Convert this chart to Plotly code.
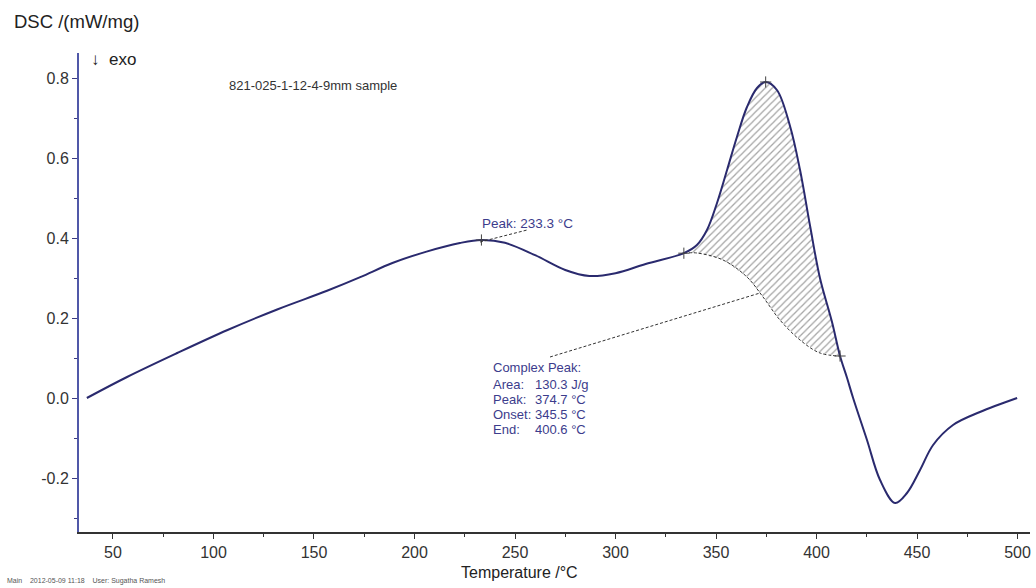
import plotly.graph_objects as go

# DSC trace: temperature (°C) vs heat flow (mW/mg)
temperature = [37, 57, 82, 107, 132, 156.5, 173, 189, 206, 222.6, 233.3, 245, 260, 275,
               287, 300, 315, 334, 340.5, 345.5, 350.5, 355.5, 360.4, 365.4, 370.4,
               374.7, 380.3, 386.8, 391.8, 396.8, 401.7, 407.7, 411.7, 415.2, 418.2,
               425.1, 431.6, 439.1, 445, 451.5, 458, 467.9, 481.3, 499.8]
dsc = [0.0, 0.0525, 0.1125, 0.17, 0.222, 0.268, 0.302, 0.3375, 0.366, 0.3875, 0.395,
       0.388, 0.357, 0.32, 0.305, 0.312, 0.335, 0.362, 0.3825, 0.42, 0.4875, 0.57,
       0.6525, 0.7275, 0.775, 0.79, 0.77, 0.68, 0.57, 0.43, 0.30, 0.19, 0.105, 0.05,
       0.0, -0.105, -0.205, -0.2625, -0.2375, -0.18, -0.1175, -0.0675, -0.035, 0.0]

# integration baseline of the complex peak
base_t = [334, 340.5, 353.5, 365.4, 373.4, 381.8, 391.8, 401.7, 411.7]
base_v = [0.362, 0.3625, 0.345, 0.3025, 0.2525, 0.195, 0.145, 0.1125, 0.105]

# evaluation markers (peak, onset, complex peak, end)
mark_t = [233.3, 334, 374.7, 411.7]
mark_v = [0.395, 0.362, 0.79, 0.105]

# tick labels
x_ticks = [50, 100, 150, 200, 250, 300, 350, 400, 450, 500]
y_ticks = [-0.2, 0.0, 0.2, 0.4, 0.6, 0.8]
y_ticktext = ["-0.2", "0.0", "0.2", "0.4", "0.6", "0.8"]

peak_rows = [("Area:", "130.3 J/g"), ("Peak:", "374.7 °C"),
             ("Onset:", "345.5 °C"), ("End:", "400.6 °C")]

NAVY = "#2a2a6e"
LABEL = "#3c3c8c"


def px_to_t(px):
    return 50 + (px - 113) / 2.01


def py_to_v(py):
    return (398 - py) / 400


# hatched region between curve and baseline
seg = [(t, v) for t, v in zip(temperature, dsc) if base_t[0] <= t <= base_t[-1]]
poly_t = [t for t, _ in seg] + base_t[::-1]
poly_v = [v for _, v in seg] + base_v[::-1]

fig = go.Figure()
fig.add_trace(go.Scatter(
    x=poly_t, y=poly_v, mode="lines", fill="toself",
    line=dict(width=0, color="rgba(0,0,0,0)"),
    fillcolor="white",
    fillpattern=dict(shape="/", fgcolor="#4a4a4a", bgcolor="white", size=5, solidity=0.25),
    hoverinfo="skip", showlegend=False))
fig.add_trace(go.Scatter(
    x=base_t, y=base_v, mode="lines", line=dict(color="#333333", width=1, dash="3px,2px"),
    line_shape="spline", showlegend=False))
fig.add_trace(go.Scatter(
    x=temperature, y=dsc, mode="lines", line=dict(color=NAVY, width=2, smoothing=1.0),
    line_shape="spline", showlegend=False))
fig.add_trace(go.Scatter(
    x=mark_t, y=mark_v, mode="markers",
    marker=dict(symbol="cross-thin", size=8, line=dict(color="#444444", width=1)),
    showlegend=False))

# leader lines for the labels
fig.add_trace(go.Scatter(x=[232.6, 256], y=[0.39, 0.42], mode="lines",
                         line=dict(color="#333333", width=1, dash="3px,2px"),
                         showlegend=False))
fig.add_trace(go.Scatter(x=[px_to_t(550), 371.9], y=[py_to_v(357), 0.2625], mode="lines",
                         line=dict(color="#333333", width=1, dash="3px,2px"),
                         showlegend=False))

font = "Liberation Sans, Arial, sans-serif"
ann = []
ann.append(dict(text="DSC /(mW/mg)", xref="paper", yref="paper", x=(12 - 79) / 951,
                y=(532 - 21) / 479, xanchor="left", yanchor="middle", showarrow=False,
                font=dict(size=18.5, color="#222222")))
ann.append(dict(text="↓  exo", xref="paper", yref="paper", x=(89 - 79) / 951,
                y=(532 - 59) / 479, xanchor="left", yanchor="middle", showarrow=False,
                font=dict(size=17, color="#222222")))
ann.append(dict(text="821-025-1-12-4-9mm sample", x=px_to_t(227), y=py_to_v(85),
                xanchor="left", yanchor="middle", showarrow=False,
                font=dict(size=13, color="#333333")))
ann.append(dict(text="Peak: 233.3 °C", x=px_to_t(480), y=py_to_v(223), xanchor="left",
                yanchor="middle", showarrow=False, font=dict(size=13.5, color=LABEL)))

row_y = [367.7, 384, 399, 414, 429]
ann.append(dict(text="Complex Peak:", x=px_to_t(491), y=py_to_v(row_y[0]),
                xanchor="left", yanchor="middle", showarrow=False,
                font=dict(size=13, color=LABEL)))
for (lab, val), py in zip(peak_rows, row_y[1:]):
    ann.append(dict(text=lab, x=px_to_t(491), y=py_to_v(py), xanchor="left",
                    yanchor="middle", showarrow=False, font=dict(size=13, color=LABEL)))
    ann.append(dict(text=val, x=px_to_t(533), y=py_to_v(py), xanchor="left",
                    yanchor="middle", showarrow=False, font=dict(size=13, color=LABEL)))

ann.append(dict(text="Temperature /°C", xref="paper", yref="paper", x=(519 - 79) / 951,
                y=(532 - 572) / 479, xanchor="center", yanchor="middle", showarrow=False,
                font=dict(size=16, color="#222222")))
ann.append(dict(text="Main    2012-05-09 11:18    User: Sugatha Ramesh", xref="paper",
                yref="paper", x=(5 - 79) / 951, y=(532 - 581) / 479, xanchor="left",
                yanchor="middle", showarrow=False, font=dict(size=7, color="#555555")))

fig.update_layout(
    width=1036, height=588,
    margin=dict(l=79, r=6, t=53, b=56),
    paper_bgcolor="white", plot_bgcolor="white",
    font=dict(family=font, color="#333333"),
    annotations=ann,
    showlegend=False,
)
fig.update_xaxes(
    range=[33.1, 506.2], tickvals=x_ticks, ticks="outside", ticklen=5, tickcolor="#333333",
    showline=True, linecolor="#333333", linewidth=1.5, showgrid=False, zeroline=False,
    tickfont=dict(size=16, color="#333333"),
    minor=dict(dtick=25, tick0=25, ticks="outside", ticklen=3, tickcolor="#333333"),
)
fig.update_yaxes(
    range=[-0.335, 0.8625], tickvals=y_ticks, ticktext=y_ticktext, ticks="outside",
    ticklen=5, tickcolor="#3a3a80", showline=True, linecolor="#5058a8", linewidth=2,
    showgrid=False, zeroline=False, tickfont=dict(size=16, color="#333333"),
    minor=dict(dtick=0.1, tick0=0.1, ticks="outside", ticklen=3, tickcolor="#3a3a80"),
)

fig.write_html("out.html")
